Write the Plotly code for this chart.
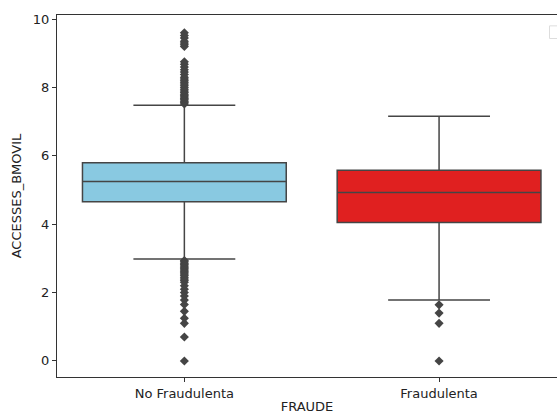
import plotly.graph_objects as go

categories = ["No Fraudulenta", "Fraudulenta"]
q1 = [4.66, 4.05]
median = [5.25, 4.93]
q3 = [5.80, 5.58]
lower_fence = [2.98, 1.78]
upper_fence = [7.48, 7.16]
fill_colors = ["#89c9e1", "#e02020"]

outliers_no = [7.52, 7.56, 7.6, 7.64, 7.68, 7.72, 7.76, 7.8, 7.85, 7.9, 7.95, 8.0, 8.05, 8.1,
               8.15, 8.2, 8.25, 8.3, 8.38, 8.45, 8.52, 8.6, 8.68, 8.75,
               9.2, 9.25, 9.3, 9.35, 9.45, 9.52, 9.6,
               2.94, 2.9, 2.86, 2.82, 2.78, 2.74, 2.7, 2.66, 2.62, 2.58, 2.54, 2.5, 2.45,
               2.4, 2.35, 2.3, 2.2, 2.1, 2.0, 1.9, 1.78, 1.65, 1.45, 1.25, 1.1, 0.7, 0.0]
outliers_fr = [1.64, 1.4, 1.1, 0.0]

line_color = "#454545"

fig = go.Figure()
for i, cat in enumerate(categories):
    fig.add_trace(go.Box(
        x=[cat], q1=[q1[i]], median=[median[i]], q3=[q3[i]],
        lowerfence=[lower_fence[i]], upperfence=[upper_fence[i]],
        fillcolor=fill_colors[i], line=dict(color=line_color, width=1.5),
        width=0.8, whiskerwidth=0.5, boxpoints=False, showlegend=False,
        hoverinfo="skip",
    ))

fig.add_trace(go.Scatter(
    x=[categories[0]] * len(outliers_no) + [categories[1]] * len(outliers_fr),
    y=outliers_no + outliers_fr, mode="markers",
    marker=dict(symbol="diamond", size=7, color=line_color),
    showlegend=False, hoverinfo="skip",
))

fig.update_layout(
    width=557, height=414,
    margin=dict(l=57, r=0, t=15, b=37),
    plot_bgcolor="white", paper_bgcolor="white",
    font=dict(family="DejaVu Sans", size=13, color="#222222"),
    xaxis=dict(
        type="category", range=[-0.5, 1.463],
        showline=True, linecolor="#333333", linewidth=1, mirror=True,
        ticks="outside", ticklen=4, tickcolor="#333333", showgrid=False,
        title=dict(text="FRAUDE", standoff=4, font=dict(size=13)),
        tickfont=dict(size=13),
    ),
    yaxis=dict(
        range=[-0.47, 10.12],
        showline=True, linecolor="#333333", linewidth=1,
        ticks="outside", ticklen=4, tickcolor="#333333", showgrid=False, zeroline=False,
        tickvals=[0, 2, 4, 6, 8, 10],
        title=dict(text="ACCESSES_BMOVIL", standoff=8, font=dict(size=13)),
        tickfont=dict(size=13),
    ),
    shapes=[dict(type="rect", xref="paper", yref="paper",
                 x0=0.985, x1=1.03, y0=0.935, y1=0.97,
                 line=dict(color="#dddddd", width=1))],
)

fig.write_html("out.html")
